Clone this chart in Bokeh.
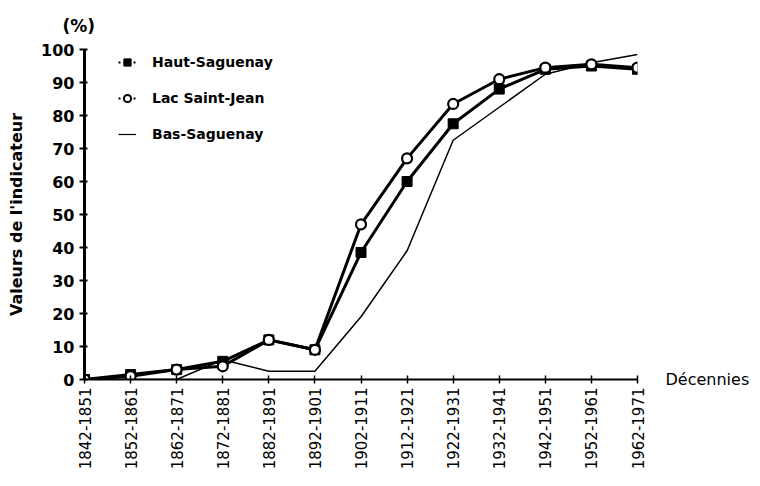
from bokeh.plotting import figure
from bokeh.models import FixedTicker, Legend, LegendItem, ColumnDataSource, Range1d, LinearAxis
from bokeh.embed import file_html
from bokeh.resources import INLINE
import math

decades = ["1842-1851", "1852-1861", "1862-1871", "1872-1881", "1882-1891", "1892-1901",
           "1902-1911", "1912-1921", "1922-1931", "1932-1941", "1942-1951", "1952-1961", "1962-1971"]
haut = [0, 1.5, 3, 5.5, 12, 9, 38.5, 60, 77.5, 88, 94, 95, 94]
lac = [0, 1, 3, 4, 12, 9, 47, 67, 83.5, 91, 94.5, 95.5, 94.5]
bas = [0, 0, 0, 6, 2.5, 2.5, 19, 39, 72.5, 82.5, 92.5, 96, 98.5]
yticks = [0, 10, 20, 30, 40, 50, 60, 70, 80, 90, 100]

FONT = "DejaVu Sans"
xs = list(range(len(decades)))

p = figure(width=752, height=478, output_backend="svg", toolbar_location=None,
           x_range=Range1d(0, len(decades) - 1), y_range=Range1d(0, 100),
           min_border_left=84, min_border_right=115, min_border_top=49, min_border_bottom=99,
           title="(%)")
p.outline_line_color = None
p.grid.visible = False
p.background_fill_color = "white"

p.title.align = "left"
p.title.offset = -22
p.title.text_font = FONT
p.title.text_font_style = "bold"
p.title.text_font_size = "17px"
p.title.text_color = "black"
p.title.standoff = 27

src = ColumnDataSource(dict(x=xs, haut=haut, lac=lac, bas=bas))

p.line("x", "bas", source=src, line_color="black", line_width=1.5)
p.line("x", "haut", source=src, line_color="black", line_width=3)
p.line("x", "lac", source=src, line_color="black", line_width=3)
p.scatter("x", "haut", source=src, marker="square", size=10, fill_color="black", line_color="black")
p.scatter("x", "lac", source=src, marker="circle", size=10, fill_color="white", line_color="black", line_width=2.2)

# legend dummy renderers (placed outside the visible ranges)
e = ColumnDataSource(dict(x=[-50, -49], y=[-50, -50]))
lh = p.line("x", "y", source=e, line_color="black", line_width=2, line_dash="2 3")
mh = p.scatter("x", "y", source=e, marker="square", size=9, fill_color="black", line_color="black")
ll = p.line("x", "y", source=e, line_color="black", line_width=2, line_dash="2 3")
ml = p.scatter("x", "y", source=e, marker="circle", size=8, fill_color="white", line_color="black", line_width=2)
lb = p.line("x", "y", source=e, line_color="black", line_width=1.2)

legend = Legend(items=[LegendItem(label="Haut-Saguenay", renderers=[lh, mh]),
                       LegendItem(label="Lac Saint-Jean", renderers=[ll, ml]),
                       LegendItem(label="Bas-Saguenay", renderers=[lb])],
                location=(34, 235), padding=0, margin=0, spacing=16,
                label_height=20, glyph_height=20, glyph_width=18, label_standoff=16,
                border_line_color=None, background_fill_alpha=0,
                label_text_font=FONT, label_text_font_style="bold", label_text_font_size="14px",
                label_text_color="black")
p.add_layout(legend, "center")

# y axis
p.yaxis.ticker = FixedTicker(ticks=yticks)
p.yaxis.axis_line_width = 3
p.yaxis.major_tick_line_width = 2
p.yaxis.major_tick_in = 3
p.yaxis.major_tick_out = 5
p.yaxis.minor_tick_line_color = None
p.yaxis.major_label_text_font = FONT
p.yaxis.major_label_text_font_style = "bold"
p.yaxis.major_label_text_font_size = "16px"
p.yaxis.major_label_text_color = "black"
p.yaxis.axis_label = "Valeurs de l'indicateur"
p.yaxis.axis_label_text_font = FONT
p.yaxis.axis_label_text_font_style = "bold"
p.yaxis.axis_label_text_font_size = "16px"
p.yaxis.axis_label_text_color = "black"
p.yaxis.axis_label_standoff = 12

# x axis
p.xaxis.ticker = FixedTicker(ticks=xs)
p.xaxis.major_label_overrides = {i: d for i, d in enumerate(decades)}
p.xaxis.major_label_orientation = math.pi / 2
p.xaxis.axis_line_width = 2
p.xaxis.major_tick_line_width = 1.5
p.xaxis.major_tick_in = 4
p.xaxis.major_tick_out = 4
p.xaxis.minor_tick_line_color = None
p.xaxis.major_label_text_font = FONT
p.xaxis.major_label_text_font_size = "15px"
p.xaxis.major_label_text_color = "black"
p.xaxis.major_label_standoff = 4

# "Décennies" shown to the right of the x axis end, via a tickless right axis
dec_axis = LinearAxis(ticker=FixedTicker(ticks=[0]), major_label_overrides={0: "Décennies"},
                      axis_line_color=None, major_tick_line_color=None, minor_tick_line_color=None,
                      major_tick_in=0, major_tick_out=0, minor_tick_in=0, minor_tick_out=0,
                      major_label_standoff=28, major_label_text_font=FONT,
                      major_label_text_font_size="16px", major_label_text_color="black")
p.add_layout(dec_axis, "right")

open("out.html", "w").write(file_html(p, INLINE))
